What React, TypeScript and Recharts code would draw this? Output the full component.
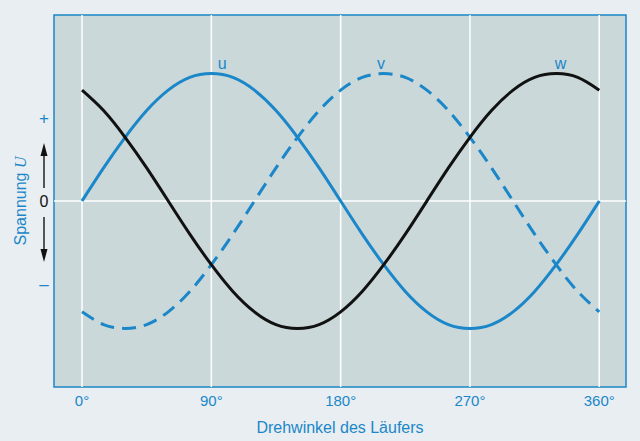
import { LineChart, Line, XAxis, YAxis, ReferenceLine, ReferenceArea, ReferenceDot } from "recharts";

const BLUE = "#1b87c9";
const FONT = "'Liberation Sans', Arial, sans-serif";

// Drehwinkel in Grad
const angles = [0, 15, 30, 45, 60, 75, 90, 105, 120, 135, 150, 165, 180, 195, 210, 225, 240, 255, 270, 285, 300, 315, 330, 345, 360];
// Strang u (durchgezogen, blau)
const uValues = [0, 0.26, 0.5, 0.71, 0.87, 0.97, 1, 0.97, 0.87, 0.71, 0.5, 0.26, 0, -0.26, -0.5, -0.71, -0.87, -0.97, -1, -0.97, -0.87, -0.71, -0.5, -0.26, 0];
// Strang v (gestrichelt, blau)
const vValues = [-0.87, -0.97, -1, -0.97, -0.87, -0.71, -0.5, -0.26, 0, 0.26, 0.5, 0.71, 0.87, 0.97, 1, 0.97, 0.87, 0.71, 0.5, 0.26, 0, -0.26, -0.5, -0.71, -0.87];
// Strang w (schwarz)
const wValues = [0.87, 0.71, 0.5, 0.26, 0, -0.26, -0.5, -0.71, -0.87, -0.97, -1, -0.97, -0.87, -0.71, -0.5, -0.26, 0, 0.26, 0.5, 0.71, 0.87, 0.97, 1, 0.97, 0.87];

const xTicks = [0, 90, 180, 270, 360];
const yTicks = [0.65, 0, -0.65];
const curveLabels = [
  { name: "u", angle: 97.5, value: 1.08 },
  { name: "v", angle: 208, value: 1.08 },
  { name: "w", angle: 333, value: 1.08 },
];

const X_DOMAIN = [-19.5, 378.6];
const Y_DOMAIN = [-1.46, 1.46];

const data = angles.map((a, i) => ({ angle: a, u: uValues[i], v: vValues[i], w: wValues[i] }));

const XTick = ({ x, y, payload }: any) => (
  <text x={x} y={y} dy="0.71em" textAnchor="middle" fontSize={15} fill={BLUE} fontFamily={FONT}>
    {payload.value}°
  </text>
);

const YTick = ({ x, y, payload }: any) => {
  const cx = x - 2;
  const v = payload.value;
  if (v === 0) {
    return (
      <g>
        <text x={cx} y={y} dy="0.36em" textAnchor="middle" fontSize={16} fill="#111" fontFamily={FONT}>0</text>
        <line x1={cx} x2={cx} y1={y - 13} y2={y - 50} stroke="#222" strokeWidth={1.5} />
        <polygon points={`${cx},${y - 58} ${cx - 3.5},${y - 45} ${cx + 3.5},${y - 45}`} fill="#111" />
        <line x1={cx} x2={cx} y1={y + 16} y2={y + 53} stroke="#222" strokeWidth={1.5} />
        <polygon points={`${cx},${y + 61} ${cx - 3.5},${y + 48} ${cx + 3.5},${y + 48}`} fill="#111" />
      </g>
    );
  }
  return (
    <text x={cx} y={y} dy="0.36em" textAnchor="middle" fontSize={17} fill={BLUE} fontFamily={FONT}>
      {v > 0 ? "+" : "–"}
    </text>
  );
};

const YTitle = ({ viewBox }: any) => {
  const x = viewBox.x + 20;
  const y = viewBox.y + viewBox.height / 2;
  return (
    <text x={x} y={y} dy="0.36em" transform={`rotate(-90 ${x} ${y})`} textAnchor="middle" fontSize={16} fill={BLUE} fontFamily={FONT}>
      Spannung <tspan fontFamily="'Liberation Serif', serif" fontStyle="italic">U</tspan>
    </text>
  );
};

export default function App() {
  return (
    <div style={{ position: "absolute", left: 0, top: 0, width: 640, height: 441, background: "#e8eef1" }}>
      <LineChart width={640} height={441} data={data} margin={{ top: 15, right: 14, bottom: 0, left: 0 }}>
        <XAxis
          dataKey="angle"
          type="number"
          domain={X_DOMAIN}
          ticks={xTicks}
          allowDataOverflow
          axisLine={false}
          tickLine={false}
          height={54}
          tick={<XTick />}
          label={{ value: "Drehwinkel des Läufers", position: "insideBottom", offset: 8, fill: BLUE, fontSize: 16, fontFamily: FONT }}
        />
        <YAxis
          type="number"
          domain={Y_DOMAIN}
          ticks={yTicks}
          allowDataOverflow
          axisLine={false}
          tickLine={false}
          width={54}
          tick={<YTick />}
          label={{ content: <YTitle /> }}
        />
        <ReferenceArea x1={X_DOMAIN[0]} x2={X_DOMAIN[1]} y1={Y_DOMAIN[0]} y2={Y_DOMAIN[1]} fill="#cad8d9" fillOpacity={1} stroke={BLUE} strokeWidth={1.5} />
        {xTicks.map((t) => (
          <ReferenceLine key={t} x={t} stroke="#ffffff" strokeWidth={1.5} />
        ))}
        <ReferenceLine y={0} stroke="#ffffff" strokeWidth={1.5} />
        <Line type="natural" dataKey="u" stroke={BLUE} strokeWidth={3} dot={false} isAnimationActive={false} />
        <Line type="natural" dataKey="v" stroke={BLUE} strokeWidth={3} strokeDasharray="14 8" dot={false} isAnimationActive={false} />
        <Line type="natural" dataKey="w" stroke="#111111" strokeWidth={3} dot={false} isAnimationActive={false} />
        {curveLabels.map((c) => (
          <ReferenceDot
            key={c.name}
            x={c.angle}
            y={c.value}
            r={0}
            fill="none"
            stroke="none"
            label={{ value: c.name, position: "center", fill: BLUE, fontSize: 16, fontFamily: FONT }}
          />
        ))}
      </LineChart>
    </div>
  );
}
